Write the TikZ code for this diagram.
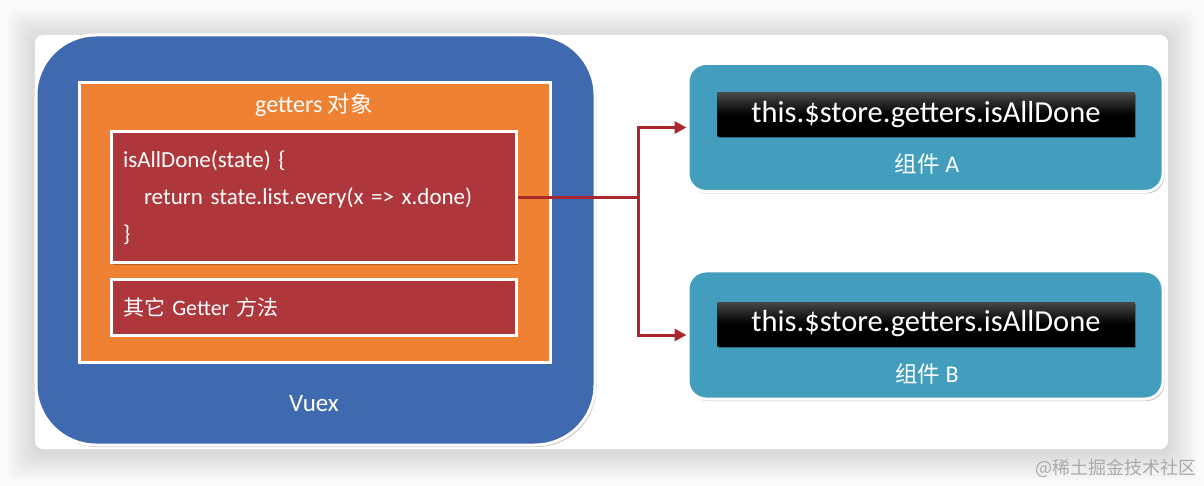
\documentclass[tikz,border=0pt]{standalone}
\usepackage{fontspec}
\setmainfont{Carlito}
\newfontfamily\cjk{Noto Sans CJK SC}
\usetikzlibrary{shadows,arrows.meta}
\definecolor{bggray}{RGB}{250,250,250}
\definecolor{vblue}{RGB}{64,106,176}
\definecolor{vorange}{RGB}{239,129,50}
\definecolor{vred}{RGB}{174,55,60}
\definecolor{vteal}{RGB}{67,158,190}
\definecolor{vconn}{RGB}{168,40,45}
\definecolor{wmgray}{RGB}{170,170,170}
\tikzset{
  boxbase/.style={rectangle, inner sep=0pt, draw=white, line width=3pt},
  smallshadow/.style={drop shadow={shadow xshift=1.5pt, shadow yshift=-2pt, opacity=0.25, fill=black}},
  cardbox/.style={rectangle, fill=white, rounded corners=8pt, minimum width=1133pt, minimum height=414pt, inner sep=0pt},
  vuexbox/.style={boxbase, fill=vblue, rounded corners=60pt, minimum width=559pt, minimum height=410pt, smallshadow},
  orangebox/.style={boxbase, fill=vorange, minimum width=471pt, minimum height=279pt, smallshadow},
  redbox/.style={boxbase, fill=vred, smallshadow, text=white},
  tealbox/.style={boxbase, fill=vteal, rounded corners=18pt, minimum width=475pt, minimum height=128pt, smallshadow},
  blackbar/.style={rectangle, inner sep=0pt, top color=black!72, bottom color=black, middle color=black, minimum width=417pt, minimum height=44pt, text=white, font=\fontsize{30.5}{34}\selectfont, drop shadow={shadow xshift=1pt, shadow yshift=-1.5pt, opacity=0.3, fill=black}},
  whitelabel/.style={text=white, inner sep=0pt, font=\fontsize{24}{28}\selectfont},
  conn/.style={draw=vconn, line width=3pt},
  connarrow/.style={conn, -{Triangle[length=12pt,width=12pt]}},
}
\begin{document}
\begin{tikzpicture}[x=1pt,y=-1pt]
\useasboundingbox (0,0) rectangle (1204,486);
\fill[bggray] (0,0) rectangle (1204,486);
% soft shadow round the card
\foreach \i in {1,...,16}{
  \fill[black, opacity=0.008, rounded corners=10pt]
    ({35-\i*1.8},{35-\i*1.8+3}) rectangle ({1168+\i*1.8},{449+\i*1.8+3});
}
\node[cardbox] (card) at (601.5,242) {};
% Vuex
\node[vuexbox] (vuex) at (315.5,240) {};
\node[whitelabel, font=\fontsize{25}{28}\selectfont] (vuexlabel) at (314,404) {Vuex};
% getters object
\node[orangebox] (getters) at (314.5,222.5) {};
\node[whitelabel] (getterslabel) at (314,105) {getters {\cjk\fontsize{22.5}{26}\selectfont 对象}};
\node[redbox, minimum width=404.5pt, minimum height=131pt, text width=381.5pt, inner xsep=11.5pt, align=left, font=\fontsize{23}{37}\selectfont] (code) at (313.75,197.5)
  {isAllDone(state) \{\\ \hspace*{21pt}return state.list.every(x => x.done)\\ \}};
\node[redbox, minimum width=404.5pt, minimum height=56pt, text width=381.5pt, inner xsep=11.5pt, align=left, font=\fontsize{22}{26}\selectfont] (other) at (313.75,307)
  {{\cjk\fontsize{21}{26}\selectfont 其它} Getter {\cjk\fontsize{21}{26}\selectfont 方法}};
% components
\node[tealbox] (compA) at (925.5,127.5) {};
\node[blackbar] (barA) at (926,115) {this.\$store.getters.isAllDone};
\node[whitelabel] (labelA) at (927,164) {{\cjk\fontsize{22.5}{26}\selectfont 组件} A};
\node[tealbox] (compB) at (925.5,335) {};
\node[blackbar] (barB) at (926,324) {this.\$store.getters.isAllDone};
\node[whitelabel] (labelB) at (927,374) {{\cjk\fontsize{22.5}{26}\selectfont 组件} B};
% connectors
\coordinate (junction) at (638.5,197.5);
\draw[conn] (code.east) -- (junction);
\draw[connarrow] (junction) |- (compA.west);
\draw[connarrow] (junction) |- (compB.west);
% watermark
\node[text=wmgray, inner sep=0pt, font=\cjk\fontsize{18}{20}\selectfont, anchor=east] (wm) at (1197,468) {@稀土掘金技术社区};
\end{tikzpicture}
\end{document}
